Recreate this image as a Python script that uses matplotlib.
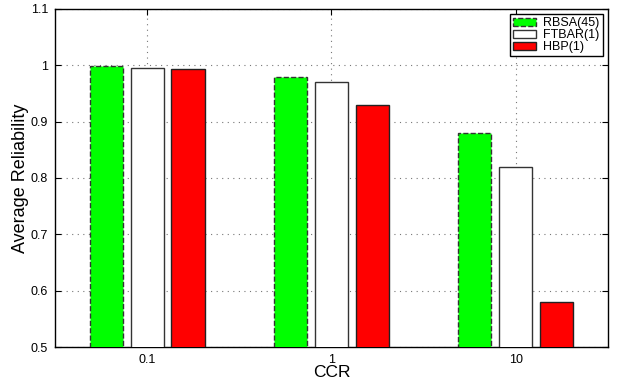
import matplotlib
matplotlib.use('Agg')
import matplotlib.pyplot as plt
import numpy as np

plt.rcParams['font.family'] = ['Liberation Sans', 'DejaVu Sans']

categories = ['0.1', '1', '10']
series_names = ['RBSA(45)', 'FTBAR(1)', 'HBP(1)']
rbsa = [0.999, 0.980, 0.880]
ftbar = [0.996, 0.970, 0.820]
hbp = [0.993, 0.930, 0.580]


def plot_chart():
    fig = plt.figure(figsize=(6.19, 3.79), dpi=100)
    ax = fig.add_axes([0.0889, 0.0844, 0.893, 0.892])
    x = np.arange(1, len(categories) + 1)
    w = 0.18
    off = 0.222
    ax.bar(x - off, rbsa, w, color='#00ff00', edgecolor='#333333',
           linestyle='--', linewidth=1.0, label=series_names[0], zorder=3)
    ax.bar(x, ftbar, w, color='white', edgecolor='#333333',
           linewidth=1.0, label=series_names[1], zorder=3)
    ax.bar(x + off, hbp, w, color='#ff0000', edgecolor='#222222',
           linewidth=1.0, label=series_names[2], zorder=3)

    ax.set_xlim(0.5, 3.5)
    ax.set_ylim(0.5, 1.1)
    ax.set_xticks(x)
    ax.set_xticklabels(categories)
    ax.set_yticks(np.arange(0.5, 1.11, 0.1))
    ax.set_yticklabels(['0.5', '0.6', '0.7', '0.8', '0.9', '1', '1.1'])
    ax.tick_params(direction='in', top=True, right=True, labelsize=9, length=4, pad=5)
    ax.grid(True, linestyle=(0, (1, 4)), color='#777777', linewidth=0.8, zorder=0)
    for s in ax.spines.values():
        s.set_linewidth(1.0)
    ax.set_xlabel('CCR', fontsize=12.5, labelpad=-1)
    ax.set_ylabel('Average Reliability', fontsize=13, labelpad=1)
    leg = ax.legend(loc='upper right', fontsize=9, frameon=True, fancybox=False,
                    edgecolor='black', framealpha=1, borderpad=0.25, labelspacing=0.0,
                    handlelength=1.8, handleheight=0.6, handletextpad=0.6,
                    borderaxespad=0.4)
    leg.get_frame().set_linewidth(1.0)
    fig.savefig('out.png', dpi=100)


if __name__ == '__main__':
    plot_chart()
